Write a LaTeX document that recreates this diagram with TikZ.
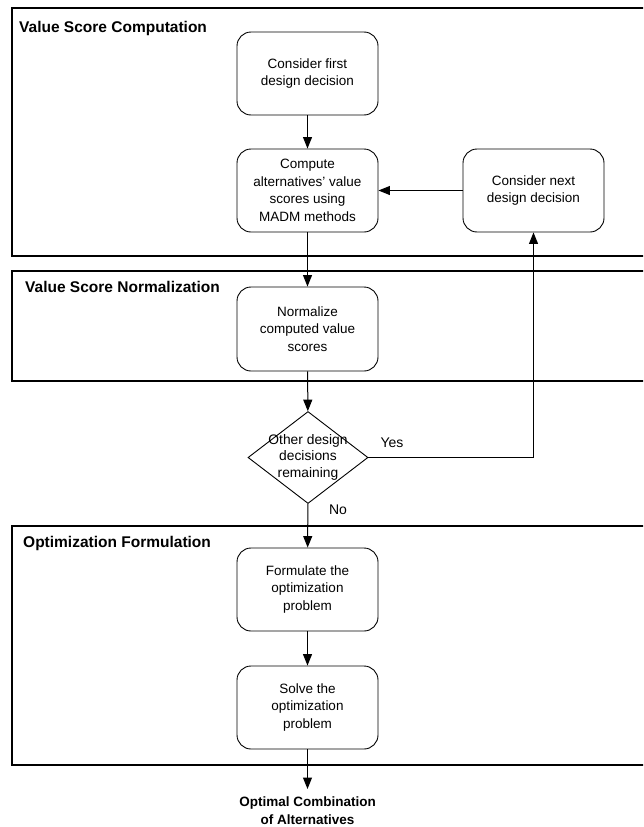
\documentclass[tikz,border=0pt]{standalone}
\usepackage{fontspec}
\setmainfont{Liberation Sans}
\usetikzlibrary{arrows.meta,shapes.geometric}
\begin{document}
\begin{tikzpicture}[x=1pt,y=-1pt,
  panel/.style={draw=black,line width=2.8pt},
  stepbox/.style={draw,rounded corners=14pt,minimum width=141pt,minimum height=83pt,
    align=center,font=\fontsize{13.5}{17.5}\selectfont,line width=0.9pt,inner sep=0pt},
  paneltitle/.style={anchor=base west,font=\fontsize{15.5}{18}\selectfont\bfseries,inner sep=0pt},
  flow/.style={line width=1pt,-{Triangle[length=11.5pt,width=9pt]}},
  lbl/.style={font=\fontsize{14}{17}\selectfont,inner sep=0pt}]
\clip (0,0) rectangle (643,827);
\fill[white] (0,0) rectangle (643,827);

% swim-lane panels (open to the right)
\draw[panel] (12,8) rectangle (670,256);
\draw[panel] (12,271) rectangle (670,381);
\draw[panel] (12,526) rectangle (670,765);

\node[paneltitle] (t1) at (19,32) {Value Score Computation};
\node[paneltitle] (t2) at (25,292) {Value Score Normalization};
\node[paneltitle] (t3) at (23,547) {Optimization Formulation};

% process steps
\node[stepbox] (first) at (307.5,73.5) {Consider first\\design decision};
\node[stepbox] (compute) at (307.5,190.5) {Compute\\alternatives’ value\\scores using\\MADM methods};
\node[stepbox] (next) at (533.5,190.5) {Consider next\\design decision};
\node[stepbox,minimum height=84pt] (norm) at (307.5,329) {Normalize\\computed value\\scores};
\node[draw,diamond,line width=0.9pt,minimum width=120pt,minimum height=92pt,inner sep=0pt] (dec) at (308,457.5) {};
\node[align=center,font=\fontsize{13.8}{16.5}\selectfont,inner sep=0pt] (dectext) at (308,457) {Other design\\decisions\\remaining};
\node[stepbox] (form) at (307.5,589.5) {Formulate the\\optimization\\problem};
\node[stepbox] (solve) at (307.5,707.5) {Solve the\\optimization\\problem};
\node[anchor=north,align=center,font=\fontsize{13.5}{17.5}\selectfont\bfseries,inner sep=0pt] (result) at (307.5,797) {Optimal Combination\\of Alternatives};
\coordinate (resulttip) at (307.5,789);

% connectors
\draw[flow] (first) -- (compute);
\draw[flow] (compute) -- (norm);
\draw[flow] (norm) -- (dec);
\draw[flow] (dec) -- (form);
\draw[flow] (form) -- (solve);
\draw[flow] (solve.south) -- (resulttip);
\draw[flow] (dec.east) -| (next.south);
\draw[flow] (next) -- (compute);

\node[lbl] (yes) at (392,443) {Yes};
\node[lbl] (no) at (338,510) {No};
\end{tikzpicture}
\end{document}
